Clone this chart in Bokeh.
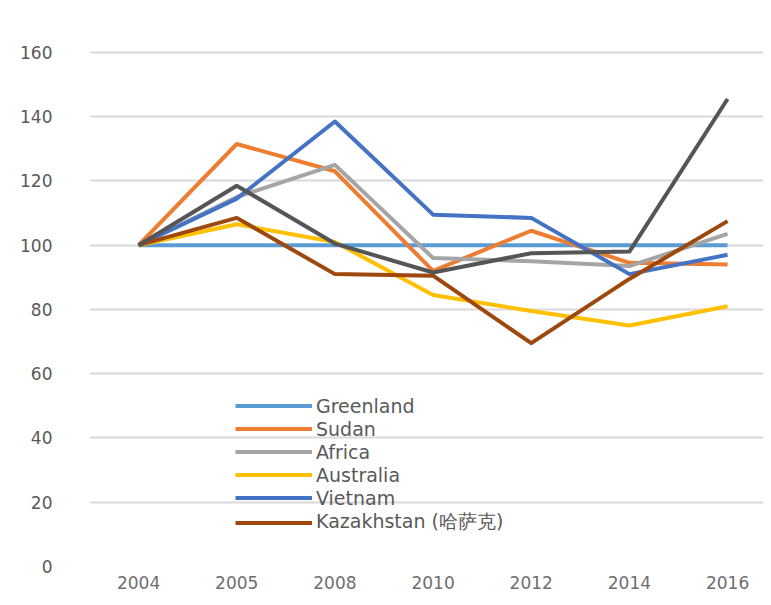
from bokeh.plotting import figure
from bokeh.models import Range1d, Legend, LegendItem, FixedTicker
from bokeh.embed import file_html
from bokeh.resources import INLINE

years = ["2004", "2005", "2008", "2010", "2012", "2014", "2016"]
y_ticks = [0, 20, 40, 60, 80, 100, 120, 140, 160]

greenland = [100, 100, 100, 100, 100, 100, 100]
sudan = [100, 131.5, 123, 92, 104.5, 94.5, 94]
africa = [100, 115, 125, 96, 95, 93.5, 103.5]
australia = [100, 106.5, 101, 84.5, 79.5, 75, 81]
vietnam = [100, 114.5, 138.5, 109.5, 108.5, 91, 97]
kazakhstan = [100, 108.5, 91, 90.5, 69.5, 89.5, 107.5]
series7 = [100, 118.5, 100.5, 91.5, 97.5, 98, 145.5]

names = ["Greenland", "Sudan", "Africa", "Australia", "Vietnam", "Kazakhstan (哈萨克)", None]
series = [greenland, sudan, africa, australia, vietnam, kazakhstan, series7]
colors = ["#5B9BD5", "#ED7D31", "#A5A5A5", "#FFC000", "#4472C4", "#9E480E", "#555555"]

# category positions: centre of each category slot
xpos = [i + 0.5 for i in range(len(years))]

p = figure(width=763, height=597, output_backend="svg",
           toolbar_location=None, min_border_left=89, min_border_right=0,
           min_border_top=14, min_border_bottom=31)
p.x_range = Range1d(0, 6.866)
p.y_range = Range1d(0, 171.8)

p.outline_line_color = None
p.xgrid.grid_line_color = None
p.ygrid.grid_line_color = "#D9D9D9"
p.ygrid.grid_line_width = 2
p.yaxis.ticker = FixedTicker(ticks=y_ticks)
p.xaxis.ticker = FixedTicker(ticks=xpos)
p.xaxis.major_label_overrides = {x: y for x, y in zip(xpos, years)}

for ax in (p.xaxis[0], p.yaxis[0]):
    ax.axis_line_color = None
    ax.major_tick_line_color = None
    ax.minor_tick_line_color = None
    ax.major_label_text_font = "DejaVu Sans"
    ax.major_label_text_font_size = "17px"
p.yaxis.major_label_text_color = "#595959"
p.xaxis.major_label_text_color = "#6e6e6e"
p.yaxis.major_label_standoff = 31
p.xaxis.major_label_standoff = 3

items = []
for name, vals, c in zip(names, series, colors):
    r = p.line(xpos, vals, line_color=c, line_width=4, line_join="round")
    if name:
        items.append(LegendItem(label=name, renderers=[r]))

legend = Legend(items=items, location=(146, 31), orientation="vertical",
                glyph_width=77, glyph_height=23, label_height=23, spacing=0,
                padding=0, margin=0, label_standoff=4,
                label_text_font="DejaVu Sans", label_text_font_size="19px",
                label_text_color="#595959", border_line_color=None,
                background_fill_alpha=0)
p.add_layout(legend, "center")

open("out.html", "w").write(file_html(p, INLINE))
